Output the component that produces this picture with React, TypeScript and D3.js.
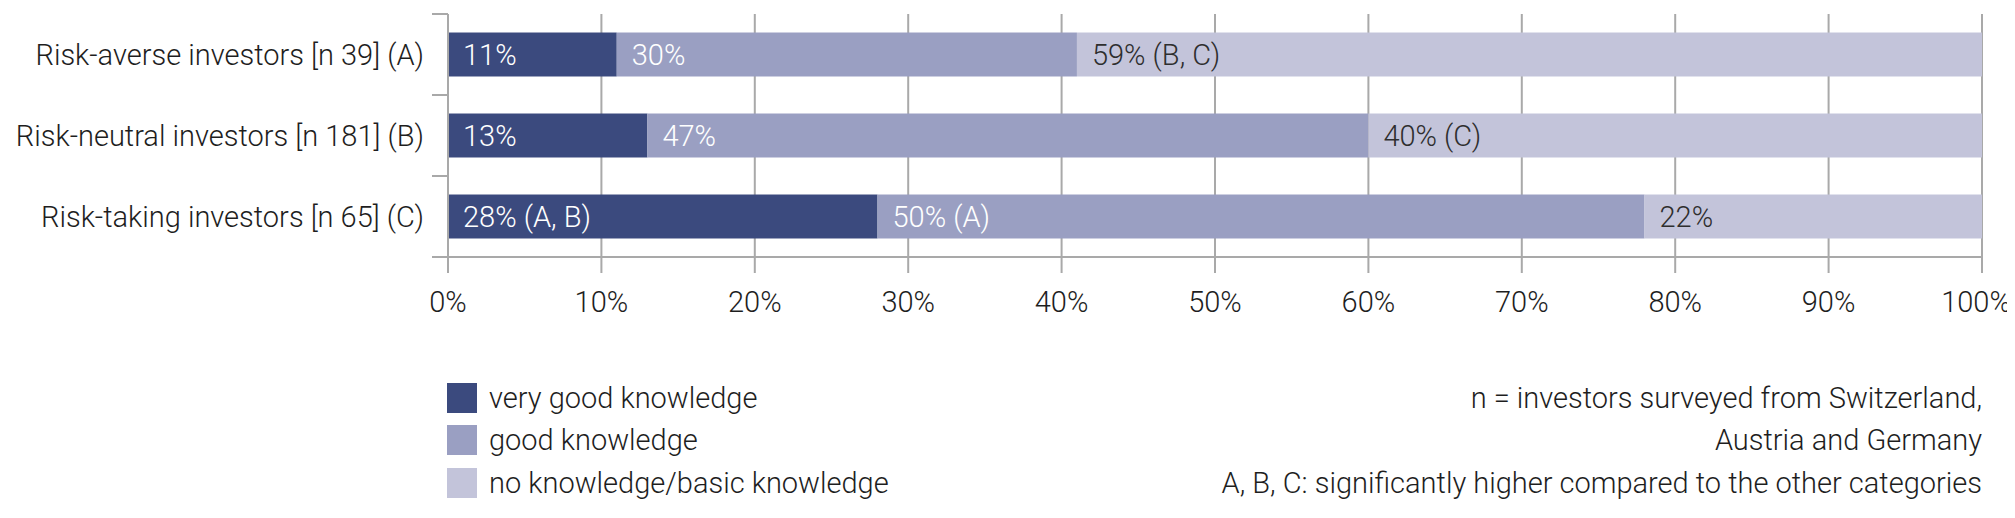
import React, { useEffect, useRef } from 'react';
import * as d3 from 'd3';

const categories = [
  'Risk-averse investors [n 39] (A)',
  'Risk-neutral investors [n 181] (B)',
  'Risk-taking investors [n 65] (C)',
];
const seriesNames = ['very good knowledge', 'good knowledge', 'no knowledge/basic knowledge'];
const veryGood = [11, 13, 28];
const good = [30, 47, 50];
const basic = [59, 40, 22];
const labelSuffix = [
  ['', '', ' (B, C)'],
  ['', '', ' (C)'],
  [' (A, B)', ' (A)', ''],
];
const xTicks = [0, 10, 20, 30, 40, 50, 60, 70, 80, 90, 100];
const notes = [
  'n = investors surveyed from Switzerland,',
  'Austria and Germany',
  'A, B, C: significantly higher compared to the other categories',
];

const colors = ['#3b4a7e', '#9a9fc2', '#c3c4da'];

const App: React.FC = () => {
  const svgRef = useRef<SVGSVGElement>(null);
  const width = 1999;
  const height = 502;

  useEffect(() => {
    if (!svgRef.current) return;
    const svg = d3.select(svgRef.current);
    svg.selectAll('*').remove();

    const font = 'Roboto, "Liberation Sans", sans-serif';
    const fontSize = '29px';
    const left = 440;
    const right = 1974;
    const top = 6;
    const bottom = 249;
    const gridColor = '#a9a9a9';

    const x = d3.scaleLinear().domain([0, 100]).range([left, right]);
    const y = d3.scaleBand<string>()
      .domain(categories)
      .range([top, bottom])
      .paddingInner(0.457)
      .paddingOuter(0.2285);

    const g = svg.append('g');

    // grid lines, running a bit past the x axis
    g.selectAll('line.grid')
      .data(xTicks)
      .join('line')
      .attr('x1', d => x(d))
      .attr('x2', d => x(d))
      .attr('y1', top)
      .attr('y2', bottom + 16)
      .style('stroke', gridColor)
      .style('stroke-width', 2);

    // stacked bars + value labels
    categories.forEach((c, i) => {
      const vals = [veryGood[i], good[i], basic[i]];
      let acc = 0;
      vals.forEach((v, k) => {
        const x0 = acc;
        acc += v;
        g.append('rect')
          .attr('x', x(x0))
          .attr('y', y(c)!)
          .attr('width', x(acc) - x(x0))
          .attr('height', y.bandwidth())
          .style('fill', colors[k]);
        g.append('text')
          .attr('x', x(x0) + 15)
          .attr('y', y(c)! + y.bandwidth() / 2)
          .attr('dy', '0.36em')
          .style('font-family', font)
          .style('font-weight', 300)
          .style('font-size', fontSize)
          .style('fill', k === 2 ? '#2e2e2e' : '#ffffff')
          .text(`${v}%${labelSuffix[i][k]}`);
      });
    });

    // y axis with ticks at band edges
    g.append('line')
      .attr('x1', left).attr('x2', left)
      .attr('y1', top).attr('y2', bottom + 16)
      .style('stroke', gridColor).style('stroke-width', 2);
    d3.range(categories.length + 1).forEach(k => {
      const yy = top + k * y.step();
      g.append('line')
        .attr('x1', left - 16).attr('x2', left)
        .attr('y1', yy).attr('y2', yy)
        .style('stroke', gridColor).style('stroke-width', 2);
    });
    // x axis
    g.append('line')
      .attr('x1', left).attr('x2', right)
      .attr('y1', bottom).attr('y2', bottom)
      .style('stroke', gridColor).style('stroke-width', 2);

    // category labels
    g.selectAll('text.cat')
      .data(categories)
      .join('text')
      .attr('x', left - 24)
      .attr('y', d => y(d)! + y.bandwidth() / 2)
      .attr('dy', '0.36em')
      .attr('text-anchor', 'end')
      .style('font-family', font)
      .style('font-weight', 300)
      .style('font-size', fontSize)
      .style('fill', '#1e1e1e')
      .text(d => d);

    // tick labels (last one pulled in slightly so it stays on the page)
    g.selectAll('text.tick')
      .data(xTicks)
      .join('text')
      .attr('x', d => (d === 100 ? x(d) - 6 : x(d)))
      .attr('y', 294)
      .attr('dy', '0.36em')
      .attr('text-anchor', 'middle')
      .style('font-family', font)
      .style('font-weight', 300)
      .style('font-size', fontSize)
      .style('fill', '#1e1e1e')
      .text(d => `${d}%`);

    // legend
    const rowY = [390, 432, 475];
    seriesNames.forEach((name, k) => {
      g.append('rect')
        .attr('x', left - 1)
        .attr('y', rowY[k] - 15)
        .attr('width', 30)
        .attr('height', 30)
        .style('fill', colors[k]);
      g.append('text')
        .attr('x', left + 41)
        .attr('y', rowY[k])
        .attr('dy', '0.36em')
        .style('font-family', font)
        .style('font-weight', 300)
        .style('font-size', fontSize)
        .style('fill', '#1e1e1e')
        .text(name);
    });

    // notes
    notes.forEach((n, k) => {
      g.append('text')
        .attr('x', right)
        .attr('y', rowY[k])
        .attr('dy', '0.36em')
        .attr('text-anchor', 'end')
        .style('font-family', font)
        .style('font-weight', 300)
        .style('font-size', fontSize)
        .style('fill', '#1e1e1e')
        .text(n);
    });
  }, []);

  return (
    <div>
      <svg ref={svgRef} width={width} height={height} style={{ overflow: 'visible', display: 'block' }} />
    </div>
  );
};

export default App;
